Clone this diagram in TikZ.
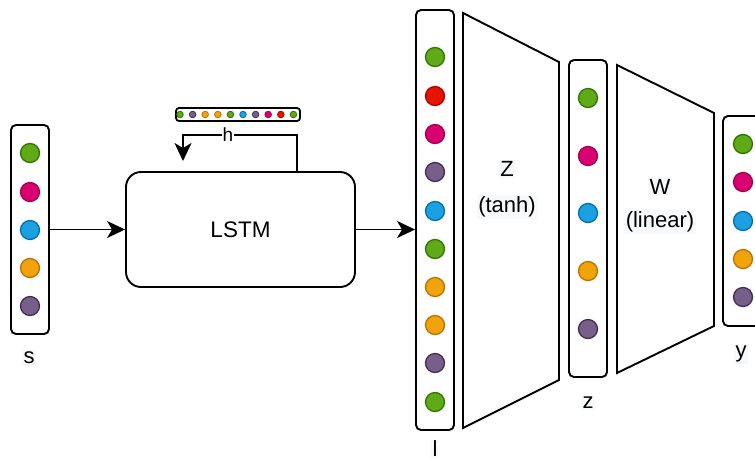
\documentclass[tikz,border=0pt]{standalone}
\usepackage{fontspec}
\setmainfont{Liberation Sans}
\usetikzlibrary{arrows.meta}
\definecolor{gF}{HTML}{60A917}\definecolor{gS}{HTML}{2D7600}
\definecolor{mF}{HTML}{D80073}\definecolor{mS}{HTML}{A50040}
\definecolor{bF}{HTML}{1BA1E2}\definecolor{bS}{HTML}{006EAF}
\definecolor{oF}{HTML}{F0A30A}\definecolor{oS}{HTML}{BD7000}
\definecolor{pF}{HTML}{76608A}\definecolor{pS}{HTML}{432D57}
\definecolor{rF}{HTML}{E51400}\definecolor{rS}{HTML}{B20000}
\definecolor{lbg}{HTML}{F8F9FA}
\tikzset{
  vecbox/.style={draw, line width=1.9pt, rounded corners=5pt, inner sep=0pt},
  dot/.style={circle, line width=1.3pt, minimum size=19pt, inner sep=0pt},
  sdot/.style={circle, line width=0.8pt, minimum size=6.6pt, inner sep=0pt},
  G/.style={fill=gF, draw=gS}, M/.style={fill=mF, draw=mS},
  B/.style={fill=bF, draw=bS}, O/.style={fill=oF, draw=oS},
  P/.style={fill=pF, draw=pS}, R/.style={fill=rF, draw=rS},
  lbl/.style={font=\fontsize{22}{26}\selectfont, fill=lbg, inner sep=1.5pt},
  arr/.style={line width=1.9pt, -{Stealth[length=18pt,width=17pt,inset=5pt]}},
  layer/.style={draw, line width=1.9pt, line join=miter, fill=white}
}
\begin{document}
\begin{tikzpicture}[x=1pt,y=-1pt]
\useasboundingbox (0,0) rectangle (755,459);

% input vector s
\node[vecbox, minimum width=38pt, minimum height=209pt] (sbox) at (30,229.5) {};
\foreach \c/\yy [count=\i] in {G/153, M/192, B/230, O/268, P/306}
  \node[dot, \c] (s\i) at (30,\yy) {};
\node[lbl] (slab) at (29,358) {s};

% LSTM
\node[draw, line width=1.9pt, rounded corners=15pt, minimum width=229pt, minimum height=115pt,
      font=\fontsize{22.5}{26}\selectfont] (lstm) at (240.5,229.5) {LSTM};
\draw[arr] (sbox.east) -- (lstm.west);

% hidden state vector
\node[draw, line width=1.8pt, rounded corners=3pt, minimum width=124pt, minimum height=13pt, inner sep=0pt] (hbox) at (238,114.5) {};
\foreach \c [count=\i] in {G,P,O,O,G,B,P,M,R,G}
  \node[sdot, \c] (h\i) at ({180+(\i-1)*12.6},114.5) {};
\coordinate (hs) at (297,172);
\coordinate (he) at (183,161);
\draw[arr] (hs) -- (297,135) -| (he);
\node[font=\fontsize{19}{23}\selectfont, fill=white, inner sep=1pt] (hlab) at (228,135) {h};

% vector l
\node[vecbox, minimum width=38pt, minimum height=420pt] (lbox) at (435,220) {};
\foreach \c/\yy [count=\i] in {G/57, R/96, M/134, P/172, B/211, G/249, O/287, O/325, P/363, G/402}
  \node[dot, \c] (l\i) at (435,\yy) {};
\node[lbl] (llab) at (435,449) {l};
\draw[arr] (lstm.east) -- (lstm.east -| lbox.west);

% layer Z
\draw[layer] (463,13) -- (559,62) -- (559,380) -- (463,428) -- cycle;
\node[lbl] (zname) at (507,169) {Z};
\node[lbl] (zact) at (507,207) {(tanh)};

% vector z
\node[vecbox, minimum width=38pt, minimum height=317pt] (zbox) at (588,218.5) {};
\foreach \c/\yy [count=\i] in {G/98, M/156, B/213, O/271, P/329}
  \node[dot, \c] (z\i) at (588,\yy) {};
\node[lbl] (zlab) at (588,403) {z};

% layer W
\draw[layer] (617,65) -- (714,113) -- (714,326) -- (617,373) -- cycle;
\node[lbl] (wname) at (660,187) {W};
\node[lbl] (wact) at (660,222) {(linear)};

% output y
\node[vecbox, minimum width=40pt, minimum height=210pt] (ybox) at (743,221) {};
\foreach \c/\yy [count=\i] in {G/144, M/182, B/221, O/259, P/297}
  \node[dot, \c] (y\i) at (743,\yy) {};
\node[lbl] (ylab) at (741,354) {y};
\end{tikzpicture}
\end{document}
